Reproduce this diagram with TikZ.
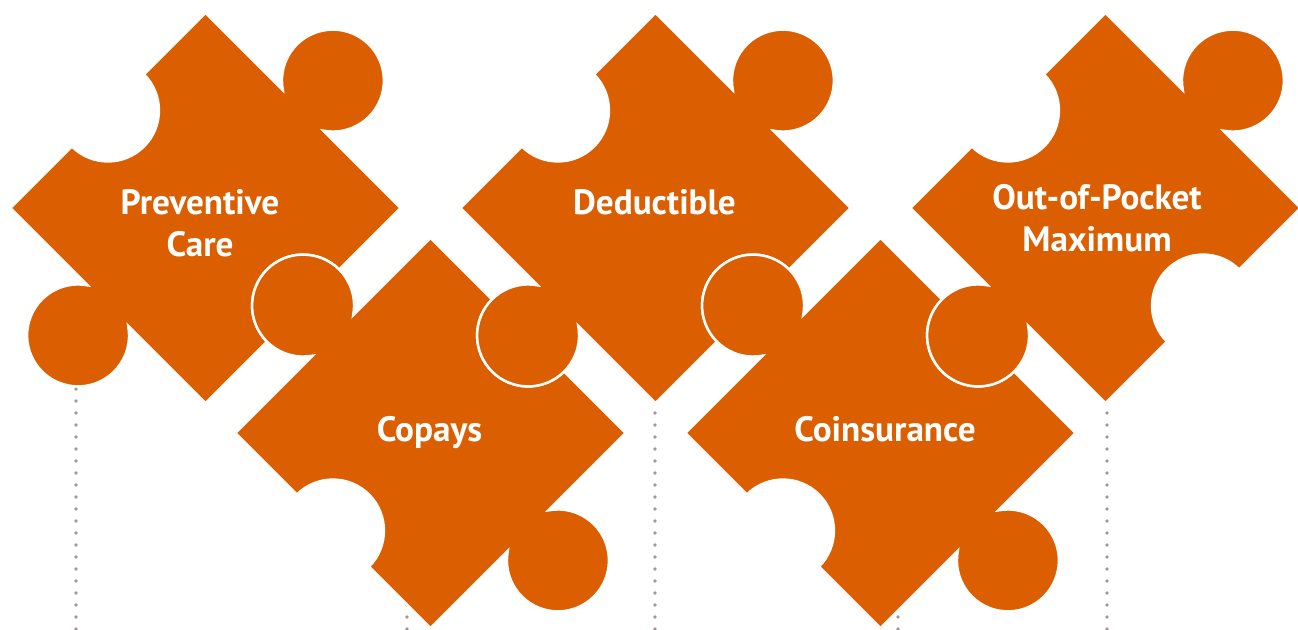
\documentclass[tikz,border=0pt]{standalone}
\usepackage{fontspec}
\setsansfont{PT Sans}
\usetikzlibrary{positioning}
\definecolor{pieceorange}{RGB}{219,94,0}
\definecolor{dotgray}{RGB}{160,152,152}

\begin{document}
\begin{tikzpicture}[
  x=0.5pt, y=0.5pt,
  piece/.pic={
    % square of half side 138, knobs on left/right, notches on top/bottom
    \path[fill=pieceorange, draw=white, line width=1.25pt]
      (-138,-138) -- (-51,-138) arc[start angle=180, end angle=0, radius=51]
      -- (138,-138) -- (138,-28.66) arc[start angle=-145.8, end angle=145.8, radius=51]
      -- (138,138) -- (51,138) arc[start angle=0, end angle=-180, radius=51]
      -- (-138,138) -- (-138,28.66) arc[start angle=34.2, end angle=325.8, radius=51]
      -- cycle;
  },
  label/.style={text=white, font=\sffamily\bfseries\fontsize{17.6}{21}\selectfont, align=center, inner sep=0pt},
  guide/.style={dotgray, line width=1.8pt, line cap=round, dash pattern=on 0pt off 6pt},
]
  \useasboundingbox (0,0) rectangle (1298,629);

  % dotted drop lines behind the pieces
  \foreach \x in {76,407,655,898,1107}
    \draw[guide] (\x,240) -- (\x,-4);

  % the five pieces, upper ones turned 45, lower ones 135
  \foreach \cx/\cy/\ang in {205.5/421/45, 430.5/196/135, 655.5/421/45, 880.5/196/135, 1105.5/421/45}
    \pic[rotate=\ang] at (\cx,\cy) {piece};

  \node[label] (prevtxt) at (200,405.4) {Preventive\\Care};
  \node[label, anchor=base] (copaytxt) at (429.5,188) {Copays};
  \node[label, anchor=base] (deductxt) at (654.5,414.7) {Deductible};
  \node[label, anchor=base] (coinstxt) at (885,188) {Coinsurance};
  \node[label] (oopmtxt) at (1097,411) {Out-of-Pocket\\Maximum};
\end{tikzpicture}
\end{document}
